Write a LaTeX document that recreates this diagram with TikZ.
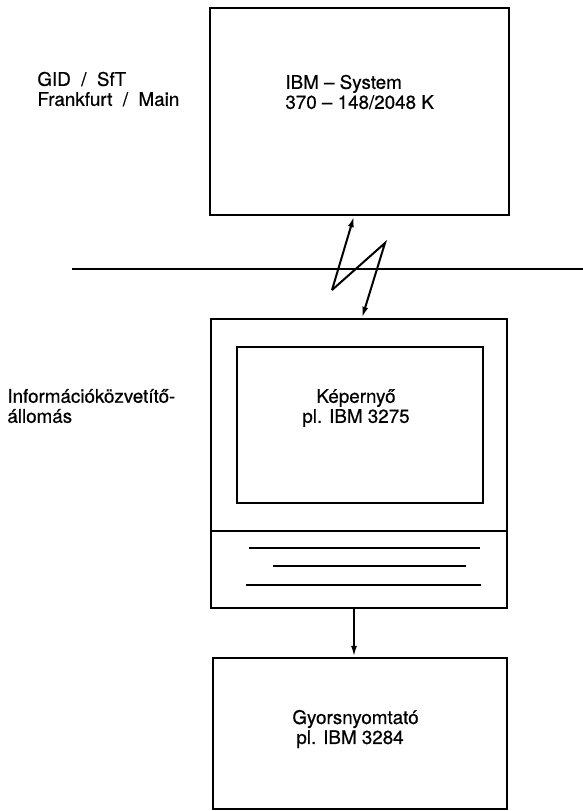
\documentclass[tikz,border=0pt]{standalone}
\usepackage{fontspec}
\setmainfont{TeX Gyre Heros}
\newfontfamily\labelfont{TeX Gyre Heros}[Ligatures=TeX, FakeBold=0.6]
\usepackage{tikz}
\usetikzlibrary{arrows.meta, positioning, calc}

\begin{document}
\begin{tikzpicture}[x=0.5pt, y=-0.5pt,
        every node/.style={font=\labelfont\fontsize{9.4}{10}\selectfont},
        unitbox/.style={draw, rectangle, line width=1.2pt, inner sep=0pt},
        caption/.style={align=left, inner sep=0pt},
        link/.style={line width=1pt, -{Latex[length=5.5pt, width=3pt]}}]
        \useasboundingbox (0,0) rectangle (583,811);

        % Nodes
        \node[unitbox, minimum width=149.5pt, minimum height=103.5pt] (host) at (359.5,111.5) {};
        \node[caption, anchor=west] (hosttext) at (285,92) {IBM – System\\370 – 148/2048 K};
        \node[caption, anchor=west] (site) at (37,89) {GID~~/~~SfT\\Frankfurt~~/~~Main};

        \node[unitbox, minimum width=148pt, minimum height=144.5pt] (terminal) at (359,463.5) {};
        \node[unitbox, minimum width=123pt, minimum height=78pt] (screen) at (360,425) {};
        \node[caption, align=center] (screentext) at (356,408) {Képernyő\\pl. IBM 3275};
        \node[caption, anchor=west] (station) at (7,406) {Információközvetítő-\\állomás};

        \node[unitbox, minimum width=147pt, minimum height=75.5pt] (printer) at (360,733.5) {};
        \node[caption, anchor=west] (printertext) at (292,729) {Gyorsnyomtató\\\hspace*{2pt}pl. IBM 3284};

        % Boundary line
        \coordinate (lineL) at (72,269);
        \coordinate (lineR) at (583,269);
        \draw[line width=1.1pt] (lineL) -- (lineR);

        % Keyboard part
        \coordinate (sep) at (0,531);
        \draw[line width=1.2pt] (terminal.west |- sep) -- (terminal.east |- sep);
        \draw[line width=1.2pt] (249,548) -- (480,548);
        \draw[line width=1.2pt] (273,566) -- (466,566);
        \draw[line width=1.2pt] (246,585) -- (481,585);

        % Arrows
        \coordinate (up) at (354,0);
        \coordinate (dn) at (362,0);
        \coordinate (zA) at (332,290);
        \coordinate (zB) at (385,243);
        \draw[link] (zA) -- (host.south -| up);
        \draw[link] (zA) -- (zB) -- (terminal.north -| dn);
        \draw[link] (terminal.south -| up) -- (printer.north -| up);
    \end{tikzpicture}
\end{document}
